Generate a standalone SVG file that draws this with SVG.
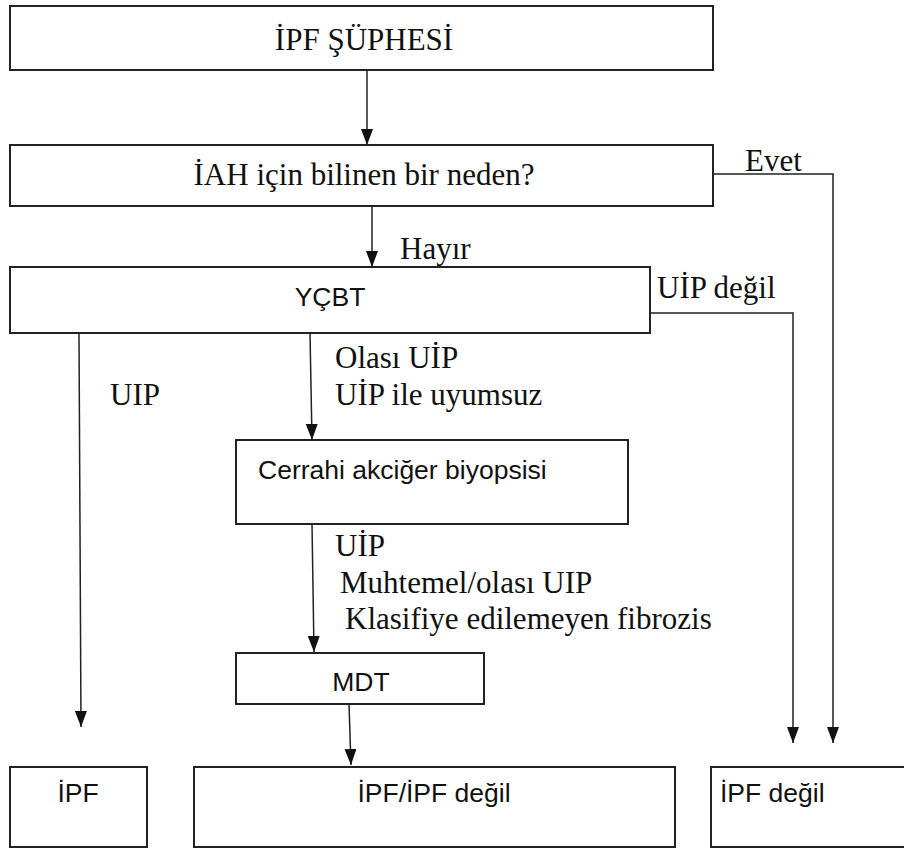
<svg xmlns="http://www.w3.org/2000/svg" width="904" height="852" viewBox="0 0 904 852">
<style>
.box{fill:#fff;stroke:#222;stroke-width:2}
.ser{font-family:"Liberation Serif","Times New Roman",serif;font-size:31px;fill:#111}
.san{font-family:"Liberation Sans",Arial,sans-serif;font-size:26.5px;fill:#111}
.con{fill:none;stroke:#222;stroke-width:1.5}
</style>
<defs>
<marker id="ah" viewBox="0 0 16 12" markerWidth="16" markerHeight="12" refX="16" refY="6" orient="auto" markerUnits="userSpaceOnUse">
<path d="M0,0 L16,6 L0,12 z" fill="#111"/>
</marker>
</defs>
<rect width="904" height="852" fill="#fff"/>
<g id="connectors">
<line class="con" x1="367" y1="70" x2="367" y2="145" marker-end="url(#ah)"/>
<line class="con" x1="372" y1="206" x2="372" y2="267" marker-end="url(#ah)"/>
<polyline class="con" points="713,174 833,174 833,743" marker-end="url(#ah)"/>
<polyline class="con" points="650,313 793,313 793,743" marker-end="url(#ah)"/>
<line class="con" x1="79" y1="333" x2="81" y2="727" marker-end="url(#ah)"/>
<line class="con" x1="310" y1="333" x2="312" y2="440" marker-end="url(#ah)"/>
<line class="con" x1="312" y1="524" x2="314" y2="652" marker-end="url(#ah)"/>
<line class="con" x1="349" y1="704" x2="351" y2="765" marker-end="url(#ah)"/>
<text class="ser" x="745" y="171">Evet</text>
<text class="ser" x="400" y="259">Hayır</text>
<text class="ser" x="657" y="298">UİP değil</text>
<text class="ser" x="335" y="368">Olası UİP</text>
<text class="ser" x="335" y="405">UİP ile uyumsuz</text>
<text class="ser" x="110" y="405">UIP</text>
<text class="ser" x="335" y="556">UİP</text>
<text class="ser" x="340" y="593">Muhtemel/olası UIP</text>
<text class="ser" x="345" y="629">Klasifiye edilemeyen fibrozis</text>
</g>
<g id="n1">
<rect class="box" x="10" y="6" width="703" height="64"/>
<text class="ser" x="364" y="50" text-anchor="middle">İPF ŞÜPHESİ</text>
</g>
<g id="n2">
<rect class="box" x="10" y="145" width="703" height="61"/>
<text class="ser" x="364" y="185" text-anchor="middle">İAH için bilinen bir neden?</text>
</g>
<g id="n3">
<rect class="box" x="10" y="267" width="640" height="66"/>
<text class="san" x="330" y="306" text-anchor="middle">YÇBT</text>
</g>
<g id="n4">
<rect class="box" x="236" y="440" width="392" height="84"/>
<text class="san" x="258" y="479">Cerrahi akciğer biyopsisi</text>
</g>
<g id="n5">
<rect class="box" x="236" y="653" width="248" height="51"/>
<text class="san" x="361" y="691" text-anchor="middle">MDT</text>
</g>
<g id="n6">
<rect class="box" x="10" y="767" width="137" height="80"/>
<text class="san" x="78" y="802" text-anchor="middle">İPF</text>
</g>
<g id="n7">
<rect class="box" x="194" y="767" width="481" height="80"/>
<text class="san" x="434" y="802" text-anchor="middle">İPF/İPF değil</text>
</g>
<g id="n8">
<rect class="box" x="711" y="767" width="200" height="80"/>
<text class="san" x="720" y="802">İPF değil</text>
</g>
</svg>
